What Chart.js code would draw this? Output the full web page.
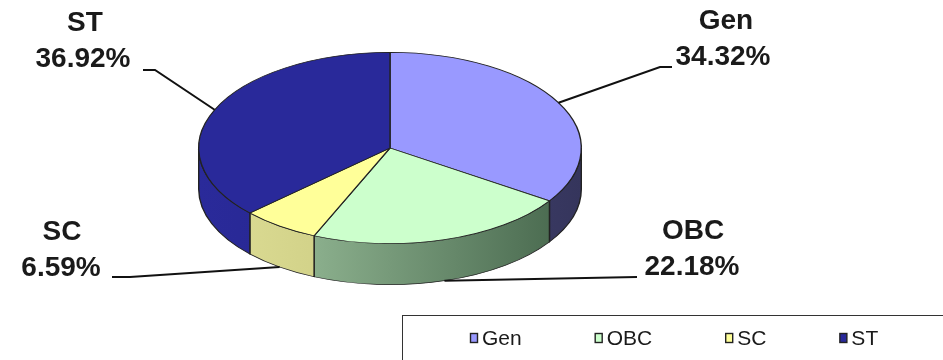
<!DOCTYPE html>
<html>
<head>
<meta charset="utf-8">
<script src="https://cdn.jsdelivr.net/npm/chart.js@4/dist/chart.umd.min.js"></script>
<style>
html, body { margin: 0; padding: 0; background: #fff; }
#wrap { width: 943px; height: 360px; position: relative; }
</style>
</head>
<body>
<div id="wrap"><canvas id="myChart" width="943" height="360"></canvas></div>
<script>
// data
const categories = ['Gen', 'OBC', 'SC', 'ST']
const shares = [34.32, 22.18, 6.59, 36.92]
const pctLabels = ['34.32%', '22.18%', '6.59%', '36.92%']

// styles
const topColors = ['#9999ff', '#ccffcc', '#ffff99', '#29299a']
const sideColors = [['#55558f', '#35355c'], ['#a9cfa9', '#44644a'], ['#dede96', '#b8b86c'], ['#2a2a9a', '#20207e']]
const depth = 41
const squash = 2

// label layout: name center, percent center, leader elbow and end
const labelPos = [
	{ nx: 726, ny: 21, px: 723, py: 57, elbow: [660, 67], end: [672, 67] },
	{ nx: 693, ny: 231, px: 692, py: 267, elbow: [637, 277], end: [637, 277] },
	{ nx: 62, ny: 232, px: 61, py: 268, elbow: [130, 277], end: [112, 277] },
	{ nx: 85, ny: 23, px: 83, py: 59, elbow: [155, 70], end: [143, 70] }
]

const pie3d = {
	id: 'pie3d',
	beforeDatasetsDraw(chart) {
		const ctx = chart.ctx
		const arcs = chart.getDatasetMeta(0).data
		const cx = arcs[0].x, cy = arcs[0].y, r = arcs[0].outerRadius
		ctx.save()
		ctx.translate(cx, 0)
		ctx.scale(squash, 1)
		ctx.translate(-cx, 0)
		// side walls, only the front half is visible
		arcs.forEach((a, i) => {
			const a1 = Math.max(a.startAngle, 0)
			const a2 = Math.min(a.endAngle, Math.PI)
			if (a2 <= a1) return
			const g = ctx.createLinearGradient(cx - r, 0, cx + r, 0)
			g.addColorStop(0, sideColors[i][0])
			g.addColorStop(1, sideColors[i][1])
			ctx.beginPath()
			ctx.moveTo(cx + r * Math.cos(a1), cy + r * Math.sin(a1))
			ctx.arc(cx, cy, r, a1, a2)
			ctx.lineTo(cx + r * Math.cos(a2), cy + r * Math.sin(a2) + depth)
			ctx.arc(cx, cy + depth, r, a2, a1, true)
			ctx.closePath()
			ctx.fillStyle = g
			ctx.fill()
			ctx.lineWidth = 0.7
			ctx.strokeStyle = '#222'
			ctx.stroke()
		})
	},
	afterDatasetsDraw(chart) {
		chart.ctx.restore()
	},
	afterDraw(chart) {
		const ctx = chart.ctx
		const arcs = chart.getDatasetMeta(0).data
		const cx = arcs[0].x, cy = arcs[0].y, r = arcs[0].outerRadius
		ctx.save()
		arcs.forEach((a, i) => {
			const m = (a.startAngle + a.endAngle) / 2
			const sx = cx + squash * r * Math.cos(m)
			const sy = cy + r * Math.sin(m) + (Math.sin(m) > 0 ? depth : 0)
			const p = labelPos[i]
			ctx.beginPath()
			ctx.moveTo(sx, sy)
			ctx.lineTo(p.elbow[0], p.elbow[1])
			ctx.lineTo(p.end[0], p.end[1])
			ctx.lineWidth = 2
			ctx.strokeStyle = '#111'
			ctx.stroke()
			ctx.fillStyle = '#1a1a1a'
			ctx.font = 'bold 28px "Liberation Sans", Arial, sans-serif'
			ctx.textAlign = 'center'
			ctx.textBaseline = 'middle'
			ctx.fillText(chart.data.labels[i], p.nx, p.ny)
			ctx.fillText(pctLabels[i], p.px, p.py)
		})

		// legend box
		ctx.lineWidth = 1
		ctx.strokeStyle = '#333'
		ctx.strokeRect(402.5, 315.5, 600, 100)
		ctx.font = '21px "Liberation Sans", Arial, sans-serif'
		ctx.textAlign = 'left'
		ctx.textBaseline = 'middle'
		let x = 470
		categories.forEach((c, i) => {
			ctx.fillStyle = topColors[i]
			ctx.fillRect(x + 0.5, 333.5, 7, 9)
			ctx.strokeStyle = '#222'
			ctx.lineWidth = 1.4
			ctx.strokeRect(x + 0.5, 333.5, 7, 9)
			ctx.fillStyle = '#1a1a1a'
			ctx.fillText(c, x + 12, 339)
			x += 12 + ctx.measureText(c).width + 73
		})
		ctx.restore()
	}
}

const context = document.getElementById('myChart')
const myChart = new Chart(context, {
	type: 'pie',
	data: {
		labels: categories,
		datasets: [{
			data: shares,
			backgroundColor: topColors,
			borderColor: '#222',
			borderWidth: 0.7,
			clip: false
		}]
	},
	options: {
		responsive: false,
		animation: false,
		events: [],
		layout: { padding: { left: 198, right: 361, top: 52, bottom: 116 } },
		plugins: {
			legend: { display: false },
			tooltip: { enabled: false }
		}
	},
	plugins: [pie3d]
})
</script>
</body>
</html>
